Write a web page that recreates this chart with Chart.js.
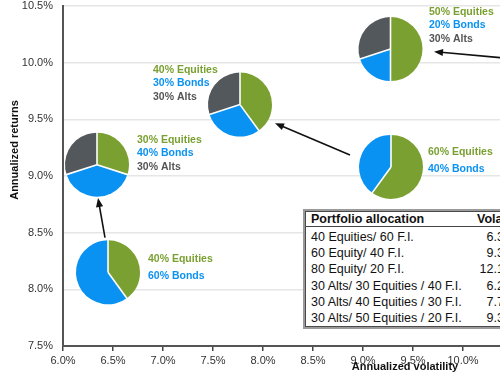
<!DOCTYPE html>
<html>
<head>
<meta charset="utf-8">
<script src="https://cdn.jsdelivr.net/npm/chart.js@4.4.1/dist/chart.umd.min.js"></script>
<style>
  html, body { margin: 0; padding: 0; background: #fff; }
  body { width: 500px; height: 380px; overflow: hidden; position: relative; font-family: 'Liberation Sans', Arial, sans-serif; }
  #chart-box { position: absolute; left: 0; top: 0; width: 500px; height: 380px; }
  .table-wrap { position: absolute; left: 303px; top: 209px; width: 260px; border: 2px solid #9a9a9a; background: #fff; }
  .table-inner { border: 1px solid #4a4a4a; }
  #alloc-table { border-collapse: collapse; table-layout: fixed; width: 100%; font-size: 12.5px; color: #111; }
  #alloc-table th { font-weight: bold; text-align: left; height: 14px; line-height: 14px; padding: 0 0 0 5px; border-bottom: 1.5px solid #444; white-space: nowrap; }
  #alloc-table td { height: 16.2px; line-height: 16.2px; padding: 0 0 0 5px; white-space: nowrap; }
  #alloc-table tr.first td { padding-top: 2px; }
  #alloc-table td.num { text-align: right; padding-right: 44px; }
</style>
</head>
<body>
<div id="chart-box"><canvas id="risk-chart" width="500" height="380"></canvas></div>
<div class="table-wrap"><div class="table-inner"><table id="alloc-table"></table></div></div>
<script>
// 파이 위치 (변동성 %, 수익률 %)
const pieVol = [6.45, 6.34, 7.77, 9.275, 9.28];
const pieRet = [8.15, 9.10, 9.63, 10.12, 9.08];
// 자산 배분 (%)
const equities = [40, 30, 40, 50, 60];
const bonds = [60, 40, 30, 20, 40];
const alts = [0, 30, 30, 30, 0];

// 화살표 (시작 -> 끝), 데이터 좌표
const arrowFromVol = [6.42, 8.87, 10.97];
const arrowFromRet = [8.456, 9.185, 9.996];
const arrowToVol = [6.35, 8.12, 9.71];
const arrowToRet = [8.806, 9.465, 10.097];

// 표
const tableLabels = ['40 Equities/ 60 F.I.', '60 Equity/ 40 F.I.', '80 Equity/ 20 F.I.',
    '30 Alts/ 30 Equities / 40 F.I.', '30 Alts/ 40 Equities / 30 F.I.', '30 Alts/ 50 Equities / 20 F.I.'];
const tableVol = ['6.35%', '9.34%', '12.13%', '6.24%', '7.73%', '9.31%'];

const xTicksMin = 6.0;
const xTicksMax = 10.37;
const yTicksMin = 7.5;
const yTicksMax = 10.5;

const GREEN = '#7aa031';
const BLUE = '#0a92f2';
const GRAY = '#53585c';
const PIE_R = 32;

// 라벨 위치 (파이 중심 기준 픽셀 오프셋)
const labelDx = [40, 40, -87, 38.5, 37];
const labelDy = [[-13, 4], [-25, -11.5, 2], [-34, -21, -7], [-37, -24, -10], [-15, 2]];

function buildTable() {
    const table = document.getElementById('alloc-table');
    let html = '<colgroup><col style="width:165px"><col style="width:95px"></colgroup>';
    html += '<tr><th>Portfolio allocation</th><th style="padding-left:6px">Volatility</th></tr>';
    tableLabels.forEach((label, i) => {
        html += `<tr class="${i === 0 ? 'first' : ''}"><td>${label}</td><td class="num">${tableVol[i]}</td></tr>`;
    });
    table.innerHTML = html;
}

function drawArrow(ctx, x1, y1, x2, y2) {
    const ang = Math.atan2(y2 - y1, x2 - x1);
    const len = 9;
    const half = 3.6;
    ctx.save();
    ctx.strokeStyle = '#111';
    ctx.fillStyle = '#111';
    ctx.lineWidth = 1.6;
    ctx.beginPath();
    ctx.moveTo(x1, y1);
    ctx.lineTo(x2 - Math.cos(ang) * len * 0.8, y2 - Math.sin(ang) * len * 0.8);
    ctx.stroke();
    ctx.beginPath();
    ctx.moveTo(x2, y2);
    ctx.lineTo(x2 - Math.cos(ang) * len - Math.sin(ang) * half, y2 - Math.sin(ang) * len + Math.cos(ang) * half);
    ctx.lineTo(x2 - Math.cos(ang) * len + Math.sin(ang) * half, y2 - Math.sin(ang) * len - Math.cos(ang) * half);
    ctx.closePath();
    ctx.fill();
    ctx.restore();
}

const piePlugin = {
    id: 'pies',
    afterDatasetsDraw(chart) {
        const { ctx, scales: { x, y } } = chart;
        const colors = [GREEN, BLUE, GRAY];

        pieVol.forEach((v, i) => {
            const cx = x.getPixelForValue(v);
            const cy = y.getPixelForValue(pieRet[i]);
            const shares = [equities[i], bonds[i], alts[i]];
            let start = -Math.PI / 2;
            const edges = [];
            shares.forEach((share, k) => {
                if (!share) return;
                const end = start + share / 100 * Math.PI * 2;
                ctx.beginPath();
                ctx.moveTo(cx, cy);
                ctx.arc(cx, cy, PIE_R, start, end);
                ctx.closePath();
                ctx.fillStyle = colors[k];
                ctx.fill();
                edges.push(start);
                start = end;
            });
            // 조각 사이 흰 선
            ctx.save();
            ctx.strokeStyle = '#fff';
            ctx.lineWidth = 1.6;
            edges.forEach(a => {
                ctx.beginPath();
                ctx.moveTo(cx, cy);
                ctx.lineTo(cx + Math.cos(a) * (PIE_R + 1), cy + Math.sin(a) * (PIE_R + 1));
                ctx.stroke();
            });
            ctx.restore();

            // 라벨
            const lines = [[`${equities[i]}% Equities`, GREEN], [`${bonds[i]}% Bonds`, BLUE]];
            if (alts[i]) lines.push([`${alts[i]}% Alts`, '#555']);
            ctx.save();
            ctx.font = "bold 10.5px 'Liberation Sans', Arial, sans-serif";
            ctx.textBaseline = 'middle';
            ctx.textAlign = 'left';
            lines.forEach((line, k) => {
                ctx.fillStyle = line[1];
                ctx.fillText(line[0], cx + labelDx[i], cy + labelDy[i][k]);
            });
            ctx.restore();
        });

        arrowFromVol.forEach((v, i) => {
            drawArrow(ctx, x.getPixelForValue(v), y.getPixelForValue(arrowFromRet[i]),
                x.getPixelForValue(arrowToVol[i]), y.getPixelForValue(arrowToRet[i]));
        });
    },
    afterDraw(chart) {
        const ctx = chart.ctx;
        ctx.save();
        ctx.fillStyle = '#111';
        ctx.font = "bold 11px 'Liberation Sans', Arial, sans-serif";
        ctx.textAlign = 'center';
        ctx.textBaseline = 'middle';
        ctx.fillText('Annualized volatility', 405, 367);
        ctx.translate(15, 150);
        ctx.rotate(-Math.PI / 2);
        ctx.fillText('Annualized returns', 0, 0);
        ctx.restore();
    }
};

document.addEventListener('DOMContentLoaded', () => {
    buildTable();
    Chart.defaults.font.family = "'Liberation Sans', Arial, sans-serif";

    const ctx = document.getElementById('risk-chart').getContext('2d');
    new Chart(ctx, {
        type: 'scatter',
        data: {
            datasets: [{
                data: pieVol.map((v, i) => ({ x: v, y: pieRet[i] })),
                pointRadius: 0
            }]
        },
        options: {
            responsive: false,
            animation: false,
            layout: { padding: { top: 6, right: 0, left: 0, bottom: 0 } },
            plugins: { legend: { display: false }, tooltip: { enabled: false } },
            scales: {
                x: {
                    type: 'linear',
                    min: xTicksMin,
                    max: xTicksMax,
                    ticks: {
                        stepSize: 0.5,
                        includeBounds: false,
                        autoSkip: false,
                        maxRotation: 0,
                        padding: 3,
                        color: '#333',
                        font: { size: 11 },
                        callback: v => v.toFixed(1) + '%'
                    },
                    grid: { drawOnChartArea: false, color: '#444', tickColor: '#444', tickLength: 5, lineWidth: 1.5 },
                    border: { color: '#555', width: 2 },
                    afterFit: s => { s.height = 34; s.paddingLeft = 0; s.paddingRight = 0; }
                },
                y: {
                    min: yTicksMin,
                    max: yTicksMax,
                    ticks: {
                        stepSize: 0.5,
                        padding: 10,
                        color: '#333',
                        font: { size: 11 },
                        callback: v => v.toFixed(1) + '%'
                    },
                    grid: { color: '#e6e6e6', lineWidth: 1.5, drawTicks: false },
                    border: { color: '#555', width: 2 },
                    afterFit: s => { s.width = 63; s.paddingTop = 0; s.paddingBottom = 0; }
                }
            }
        },
        plugins: [piePlugin]
    });
});
</script>
</body>
</html>
